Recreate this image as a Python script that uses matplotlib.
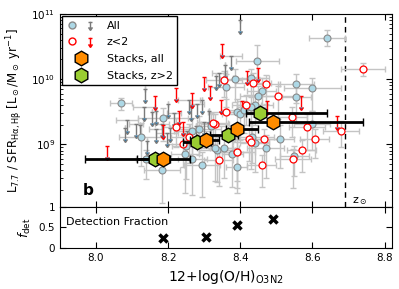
import numpy as np
import matplotlib
matplotlib.use("Agg")
import matplotlib.pyplot as plt
from matplotlib.lines import Line2D
from matplotlib import lines as mlines
from matplotlib.legend_handler import HandlerBase, HandlerTuple


# ---------------------------------------------------------
# Data (x = 12+log(O/H), y = log10 L/SFR)
# ---------------------------------------------------------
all_x = [8.07, 8.186, 8.125, 8.267, 8.36, 8.385, 8.43, 8.39, 8.44, 8.25, 8.336, 8.44, 8.378,
         8.64, 8.447, 8.555, 8.60, 8.46, 8.555, 8.45, 8.60, 8.51, 8.433, 8.356, 8.33, 8.47,
         8.40, 8.43, 8.286, 8.32, 8.295, 8.39, 8.39, 8.55, 8.183, 8.247, 8.267, 8.14, 8.41]
all_logy = [9.63, 9.40, 9.12, 9.20, 9.88, 10.0, 10.01, 9.49, 9.60, 8.97, 8.92, 9.02, 8.85,
            10.63, 10.28, 9.93, 9.86, 9.82, 9.73, 9.74, 9.31, 9.09, 9.12, 8.94, 8.94, 8.94,
            9.46, 9.58, 9.23, 9.28, 8.69, 8.88, 8.65, 8.82, 8.60, 8.86, 8.77, 8.77, 9.52]
all_xerr = [0.03, 0.07, 0.06, 0.05, 0.05, 0.04, 0.05, 0.04, 0.05, 0.04, 0.05, 0.04, 0.03,
            0.05, 0.06, 0.05, 0.08, 0.04, 0.04, 0.05, 0.05, 0.04, 0.06, 0.04, 0.05, 0.05,
            0.05, 0.04, 0.06, 0.04, 0.05, 0.04, 0.03, 0.04, 0.05, 0.04, 0.04, 0.03, 0.05]
all_dlo = [0.10, 0.35, 0.45, 0.40, 0.30, 0.35, 0.25, 0.40, 0.30, 0.50, 0.50, 0.45, 0.50,
           0.12, 0.25, 0.30, 0.35, 0.30, 0.40, 0.35, 0.40, 0.45, 0.40, 0.45, 0.50, 0.45,
           0.40, 0.35, 0.40, 0.35, 0.50, 0.55, 0.40, 0.30, 0.50, 0.60, 0.55, 0.30, 0.35]
all_dhi = [0.08, 0.15, 0.20, 0.20, 0.20, 0.15, 0.15, 0.20, 0.15, 0.20, 0.20, 0.20, 0.20,
           0.12, 0.25, 0.15, 0.15, 0.20, 0.20, 0.15, 0.20, 0.20, 0.20, 0.20, 0.20, 0.20,
           0.20, 0.15, 0.20, 0.20, 0.20, 0.20, 0.20, 0.15, 0.20, 0.20, 0.20, 0.15, 0.15]

z2_x = [8.222, 8.258, 8.24, 8.356, 8.417, 8.36, 8.33, 8.39, 8.425, 8.34, 8.74, 8.435,
        8.47, 8.505, 8.544, 8.586, 8.606, 8.68, 8.57, 8.43, 8.467, 8.325, 8.46, 8.545]
z2_logy = [9.26, 9.11, 9.0, 9.98, 9.6, 9.49, 9.31, 8.89, 9.09, 8.76, 10.15, 9.94,
           9.92, 9.74, 9.42, 9.26, 9.09, 9.21, 8.92, 9.03, 9.08, 9.32, 8.69, 8.78]
z2_xerr = [0.04, 0.05, 0.04, 0.05, 0.04, 0.05, 0.04, 0.05, 0.04, 0.04, 0.06, 0.05,
           0.04, 0.05, 0.04, 0.05, 0.04, 0.05, 0.04, 0.05, 0.04, 0.04, 0.04, 0.05]
z2_dlo = [0.30, 0.40, 0.35, 0.25, 0.30, 0.35, 0.40, 0.45, 0.35, 0.40, 0.10, 0.30,
          0.30, 0.35, 0.30, 0.35, 0.30, 0.25, 0.35, 0.40, 0.40, 0.35, 0.35, 0.45]
z2_dhi = [0.15, 0.20, 0.15, 0.15, 0.15, 0.20, 0.15, 0.20, 0.15, 0.15, 0.10, 0.15,
          0.15, 0.15, 0.15, 0.20, 0.15, 0.15, 0.15, 0.20, 0.15, 0.15, 0.15, 0.15]

lim_x = [8.136, 8.133, 8.156, 8.111, 8.081, 8.086, 8.122, 8.167, 8.142, 8.197, 8.40, 8.375,
         8.358, 8.342, 8.333, 8.258, 8.294, 8.28, 8.264, 8.167, 8.183, 8.206, 8.253, 8.278,
         8.30, 8.314, 8.20, 8.217]
lim_logy = [9.85, 9.57, 9.49, 9.31, 9.25, 9.37, 9.29, 9.23, 9.05, 9.17, 10.91, 10.35,
            10.22, 10.09, 10.05, 9.68, 9.68, 9.62, 9.57, 9.51, 9.31, 9.25, 9.20, 9.28,
            9.35, 9.51, 9.62, 9.48]
lim_xerr = [0.00, 0.03, 0.00, 0.02, 0.00, 0.03, 0.00, 0.02, 0.00, 0.03, 0.00, 0.03,
            0.00, 0.02, 0.00, 0.03, 0.00, 0.02, 0.00, 0.00, 0.02, 0.00, 0.03, 0.00,
            0.02, 0.00, 0.00, 0.02]

zlim_x = [8.222, 8.267, 8.164, 8.231, 8.03, 8.30, 8.317, 8.347, 8.242, 8.35, 8.42,
          8.45, 8.567, 8.667, 8.475, 8.406, 8.185]
zlim_logy = [9.86, 9.78, 9.74, 9.51, 8.98, 10.03, 9.89, 9.68, 9.34, 10.54, 10.12,
             10.17, 9.74, 9.43, 9.66, 9.66, 9.30]

stack_all_x = [8.185, 8.305, 8.39, 8.49]
stack_all_logy = [8.77, 9.06, 9.23, 9.34]
stack_all_xlo = [0.215, 0.045, 0.03, 0.065]
stack_all_xhi = [0.075, 0.035, 0.06, 0.25]
stack_z2_x = [8.165, 8.28, 8.365, 8.455]
stack_z2_logy = [8.78, 9.04, 9.15, 9.48]
stack_z2_xlo = [0.05, 0.04, 0.05, 0.04]
stack_z2_xhi = [0.04, 0.04, 0.03, 0.185]
stack_dlogy = 0.06

fdet_x = [8.185, 8.305, 8.39, 8.49]
fdet = [0.24, 0.27, 0.56, 0.71]

z_sun = 8.69
arrow_dex = 0.17


class LimitProxy(Line2D):
    pass


class LimitHandler(HandlerBase):
    def create_artists(self, legend, orig, xd, yd, w, h, fontsize, trans):
        c = orig.get_color()
        cx = -xd + w / 2.0
        top = -yd + h * 0.9
        bot = -yd + h * 0.15
        stem = Line2D([cx, cx], [bot, top], color=c, lw=1)
        cap = Line2D([cx], [top], marker="_", ms=3.5, mew=1, color=c)
        head = Line2D([cx], [bot], marker=mlines.CARETDOWNBASE, ms=3, color=c, mec=c)
        for a in (stem, cap, head):
            a.set_transform(trans)
        return [stem, cap, head]


def log_err(logy, dlo, dhi):
    y = 10 ** np.asarray(logy)
    lo = y - 10 ** (np.asarray(logy) - np.asarray(dlo))
    hi = 10 ** (np.asarray(logy) + np.asarray(dhi)) - y
    return y, np.vstack([lo, hi])


def draw_limits(ax, x, logy, color, xerr=None):
    y = 10 ** np.asarray(logy)
    dy = y * (1 - 10 ** (-arrow_dex))
    if xerr is not None:
        ax.errorbar(x, y, xerr=xerr, fmt="none", ecolor="#c4c4c4", elinewidth=1,
                    capsize=2, zorder=1)
    ax.errorbar(x, y, yerr=dy, uplims=True, fmt="none", ecolor=color, elinewidth=1,
                capsize=1.6, capthick=1, zorder=3)


# ---------------------------------------------------------
# Figure
# ---------------------------------------------------------
plt.rcParams["font.family"] = "DejaVu Sans"
fig = plt.figure(figsize=(3.99, 2.89), dpi=100)
ax = fig.add_axes([0.150, 0.284, 0.832, 0.668])
axb = fig.add_axes([0.150, 0.142, 0.832, 0.142], sharex=ax)

grey_eb = dict(fmt="none", ecolor="#c4c4c4", elinewidth=1, capsize=2, zorder=1)

y, yerr = log_err(all_logy, all_dlo, all_dhi)
ax.errorbar(all_x, y, xerr=all_xerr, yerr=yerr, **grey_eb)
y2, yerr2 = log_err(z2_logy, z2_dlo, z2_dhi)
ax.errorbar(z2_x, y2, xerr=z2_xerr, yerr=yerr2, **grey_eb)

draw_limits(ax, lim_x, lim_logy, "#7a7a7a", xerr=lim_xerr)
draw_limits(ax, zlim_x, zlim_logy, "red")

ax.plot(all_x, y, "o", ms=5, mfc="#add8e6", mec="#8a8a8a", mew=0.8, ls="none", zorder=4)
ax.plot(z2_x, y2, "o", ms=5, mfc="white", mec="red", mew=0.9, ls="none", zorder=4)

for sx, sly, xlo, xhi, fc in [(stack_z2_x, stack_z2_logy, stack_z2_xlo, stack_z2_xhi, "#9acd32"),
                              (stack_all_x, stack_all_logy, stack_all_xlo, stack_all_xhi, "#ff8c00")]:
    sy, syerr = log_err(sly, [stack_dlogy] * 4, [stack_dlogy] * 4)
    ax.errorbar(sx, sy, xerr=[xlo, xhi], yerr=syerr, fmt="h", ms=10.5, mfc=fc, mec="black",
                mew=1, ecolor="black", elinewidth=2, capsize=3, capthick=1.5, zorder=6)

ax.axvline(z_sun, color="black", ls="--", lw=1, dashes=(4, 3), zorder=0)
ax.text(z_sun + 0.02, 1.25e8, r"z$_\odot$", fontsize=8)
ax.text(0.07, 0.06, "b", transform=ax.transAxes, fontsize=11, fontweight="bold")

ax.set_yscale("log")
ax.set_xlim(7.9, 8.82)
ax.set_ylim(1.1e8, 1e11)
ax.set_ylabel(r"L$_{7.7}$ / SFR$_{\rm H\alpha,H\beta}$ [L$_\odot$/M$_\odot$ yr$^{-1}$]",
              fontsize=8.5)
ax.tick_params(which="both", direction="in", top=True, right=True, labelsize=7.5)
ax.tick_params(which="major", length=4)
ax.tick_params(which="minor", length=2)
ax.tick_params(axis="x", labelbottom=False)

h_all = (Line2D([], [], marker="o", ms=5, mfc="#add8e6", mec="#8a8a8a", ls="none"),
         LimitProxy([], [], color="#7a7a7a"))
h_z2 = (Line2D([], [], marker="o", ms=5, mfc="white", mec="red", ls="none"),
        LimitProxy([], [], color="red"))
h_sa = Line2D([], [], marker="h", ms=10.5, mfc="#ff8c00", mec="black", ls="none")
h_sz = Line2D([], [], marker="h", ms=10.5, mfc="#9acd32", mec="black", ls="none")
leg = ax.legend([h_all, h_z2, h_sa, h_sz], ["All", "z<2", "Stacks, all", "Stacks, z>2"],
                handler_map={tuple: HandlerTuple(ndivide=None, pad=0.8), LimitProxy: LimitHandler()},
                loc="upper left", fontsize=8, fancybox=False, edgecolor="black",
                framealpha=1, handlelength=2.6, labelspacing=0.6, borderaxespad=0.2,
                handletextpad=1.0)
leg.get_frame().set_linewidth(1)

# detection fraction panel
axb.plot(fdet_x, fdet, "x", ms=6, mew=2.5, color="black", ls="none")
axb.text(0.02, 0.55, "Detection Fraction", transform=axb.transAxes, fontsize=8)
axb.set_ylim(0, 1)
axb.set_yticks([0, 0.5, 1])
axb.set_yticklabels(["0", "0.5", "1"])
axb.set_xticks([8.0, 8.2, 8.4, 8.6, 8.8])
axb.set_xticklabels(["8.0", "8.2", "8.4", "8.6", "8.8"])
axb.set_ylabel(r"$f_{\rm det}$", fontsize=9)
axb.set_xlabel(r"12+log(O/H)$_{\rm O3N2}$", fontsize=10)
axb.tick_params(direction="in", top=True, right=True, labelsize=7.5, length=4)
axb.minorticks_off()

fig.savefig("out.png", dpi=100)
